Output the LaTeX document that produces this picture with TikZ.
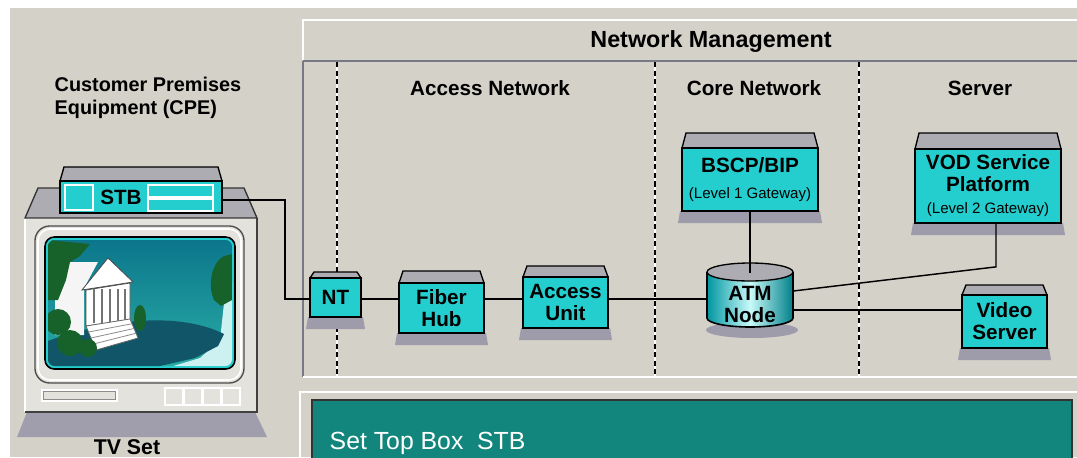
\documentclass[tikz,border=0pt]{standalone}
\usepackage{fontspec}
\setmainfont{Liberation Sans}
\usetikzlibrary{calc}

\definecolor{bg}{RGB}{212,209,201}
\definecolor{tvbody}{RGB}{228,226,220}
\definecolor{devcyan}{RGB}{36,206,206}
\definecolor{lidgrey}{RGB}{172,172,178}
\definecolor{shadowgrey}{RGB}{158,156,170}
\definecolor{panelteal}{RGB}{18,134,124}
\definecolor{standgrey}{RGB}{160,158,172}
\definecolor{framegrey}{RGB}{120,120,135}
\definecolor{leaf}{RGB}{22,98,42}
\definecolor{skytop}{RGB}{12,118,140}
\definecolor{skybot}{RGB}{40,172,165}
\definecolor{ground}{RGB}{16,86,104}
\definecolor{water}{RGB}{205,240,240}
\definecolor{cyldark}{RGB}{0,150,160}
\definecolor{cyllight}{RGB}{200,250,250}

\tikzset{
  dev/.style={draw=black, line width=1.3pt, fill=devcyan, align=center, inner sep=0pt,
    font=\bfseries\fontsize{15.5}{16.5}\selectfont},
  lid/.style={draw=black, line width=1pt, fill=lidgrey},
  wire/.style={draw=black, line width=1.1pt},
  heading/.style={font=\bfseries\fontsize{15.5}{17}\selectfont},
  divider/.style={black, line width=1.1pt, dash pattern=on 3.8pt off 2.6pt},
}
% smaller plain type for the gateway notes
\newcommand\gwfont{\mdseries\fontsize{11.3}{14}\selectfont}

% shadow, lid and body of a box-shaped device: name, cx, cy, w, h, lid height, label
\newcommand\netdevice[7]{%
  \fill[shadowgrey] ({#2-#4/2-2},{#3+#5/2}) -- ({#2+#4/2+2},{#3+#5/2})
     -- ({#2+#4/2+4},{#3+#5/2+12}) -- ({#2-#4/2-4},{#3+#5/2+12}) -- cycle;
  \filldraw[lid] ({#2-#4/2},{#3-#5/2}) -- ({#2-#4/2+4},{#3-#5/2-#6})
     -- ({#2+#4/2-4},{#3-#5/2-#6}) -- ({#2+#4/2},{#3-#5/2}) -- cycle;
  \node[dev, minimum width=#4*0.75pt, minimum height=#5*0.75pt] (#1) at (#2,#3) {#7};
}

\begin{document}
\begin{tikzpicture}[x=0.75pt,y=-0.75pt]
\useasboundingbox (0,0) rectangle (1077,457);
\fill[white] (0,0) rectangle (1077,457);
\fill[bg] (10,8) rectangle (1077,457);

% ---------- network management frame ----------
\draw[white, line width=1.5pt] (303,60) -- (303,20) -- (1077,20);
\draw[framegrey, line width=1.2pt] (303,61) -- (1077,61);
\draw[framegrey, line width=0.8pt] (303,61) -- (303,377);
\draw[white, line width=1.5pt] (303,377) -- (1077,377);
\foreach \dx in {337,655,859} {
  \draw[white, line width=1.1pt] (\dx,62) -- (\dx,376);
  \draw[divider] (\dx,62) -- (\dx,376);
}

\node[font=\bfseries\fontsize{17.5}{20}\selectfont] (nm) at (711,42) {Network Management};
\node[heading] (an) at (490,88) {Access Network};
\node[heading] (cn) at (754,88) {Core Network};
\node[heading] (sv) at (980,88) {Server};
\node[font=\bfseries\fontsize{14.9}{17.3}\selectfont, align=left, anchor=west] (cpe) at (50,98)
  {Customer Premises\\Equipment (CPE)};

% ---------- set top box panel ----------
\draw[white, line width=1.5pt] (300,458) -- (300,392) -- (1077,392);
\filldraw[fill=panelteal, draw=black!80, line width=1pt] (312,460) -- (312,400) -- (1072,400) -- (1072,460);
\node[text=white, font=\fontsize{18.6}{20}\selectfont, anchor=west] (stbpanel) at (325,443) {Set Top Box\ \ STB};

% ---------- TV set ----------
\fill[standgrey] (27,412) -- (255,412) -- (267,437) -- (17,437) -- cycle;
\fill[tvbody] (25,218) rectangle (257,412);
\draw[white, line width=1.3pt] (25,412) -- (25,218) -- (257,218);
\draw[black!75, line width=1.3pt] (25,412) -- (257,412) -- (257,218);
\filldraw[fill=lidgrey, draw=black!80, line width=1pt] (25,218) -- (38,188) -- (244,188) -- (257,218) -- cycle;
\draw[black!70, line width=1pt, rounded corners=11pt] (35,226) rectangle (244,383);
\draw[white, line width=1.2pt, rounded corners=9pt] (38,229) rectangle (241,380);
\filldraw[fill=devcyan, draw=black, line width=1.2pt, rounded corners=7pt] (45,237) rectangle (235,369);
\begin{scope}
  \clip[rounded corners=5pt] (48,240) rectangle (232,366);
  \shade[top color=skytop, bottom color=skybot] (48,240) rectangle (232,366);
  \fill[water] (226,285) -- (235,280) -- (235,370) -- (160,370) -- (200,358) -- (220,340) -- cycle;
  \fill[ground] (45,342) .. controls (110,318) and (180,312) .. (224,334)
     -- (218,346) -- (195,358) -- (160,366) -- (45,370) -- cycle;
  \fill[leaf] (224,256) .. controls (212,262) and (207,285) .. (214,300)
     -- (221,306) -- (232,300) -- (232,254) -- cycle;
  \fill[white!92!gray] (55,262) -- (98,262) -- (84,288) -- (84,335) -- (55,335) -- cycle;
  \filldraw[fill=white, draw=black!70, line width=0.6pt] (82,290) -- (108,258) -- (133,282) -- cycle;
  \filldraw[fill=white, draw=black!70, line width=0.6pt] (86,290) -- (130,283) -- (130,320) -- (86,326) -- cycle;
  \foreach \cx in {94,102,110,118,125}
    \draw[black!55, line width=0.8pt] (\cx,289) -- (\cx,323);
  \filldraw[fill=white, draw=black!60, line width=0.6pt] (86,326) -- (130,319) -- (138,338) -- (96,350) -- cycle;
  \foreach \s in {0.25,0.5,0.75}
    \draw[black!45, line width=0.6pt] ($(86,326)!\s!(96,350)$) -- ($(130,319)!\s!(138,338)$);
  % foliage
  \fill[leaf] (48,240) -- (90,244) -- (80,256) -- (70,262) -- (66,280) -- (58,300) -- (48,300) -- cycle;
  \fill[leaf] (62,258) circle [radius=9];
  \fill[leaf] (58,322) circle [radius=13];
  \fill[leaf] (70,343) circle [radius=13];
  \fill[leaf] (88,348) circle [radius=9];
  \fill[leaf] (140,318) ellipse [x radius=6, y radius=13];
\end{scope}
% controls below the screen
\draw[white, line width=1pt] (42,390) rectangle (117,401);
\draw[black!45, line width=0.6pt] (43.5,391.5) rectangle (115.5,399.5);
\foreach \bx in {165,184,203,222}
  \draw[white, line width=1pt] (\bx,388) rectangle ++(18,17);
\node[font=\bfseries\fontsize{16}{18}\selectfont] (tv) at (127,447) {TV Set};

% set top box on the TV
\filldraw[lid] (60,181) -- (64,167) -- (218,167) -- (222,181) -- cycle;
\node[dev, minimum width=162*0.75pt, minimum height=32*0.75pt] (stb) at (141,197) {};
\draw[white, line width=0.9pt] (65,185) rectangle (93,210);
\draw[white, line width=0.9pt] (148,185) rectangle (213,197);
\draw[white, line width=0.9pt] (148,199) rectangle (213,211);
\node[font=\bfseries\fontsize{15.5}{17}\selectfont] (stblabel) at (121,197) {STB};

% ---------- devices ----------
\netdevice{nt}{335.5}{297.5}{51}{39}{6}{NT}
\netdevice{fh}{441.5}{308}{85}{50}{12}{Fiber\\Hub}
\netdevice{au}{565.5}{302.5}{85}{51}{11}{Access\\Unit}
\netdevice{bscp}{750}{179.5}{136}{63}{15}{BSCP/BIP\\[3pt]{\gwfont (Level 1 Gateway)}}
\netdevice{vod}{988}{186}{146}{74}{16}{VOD Service\\Platform\\{\gwfont (Level 2 Gateway)}}
\netdevice{vs}{1004.5}{321.5}{85}{53}{10}{Video\\Server}

% ATM node drawn as a cylinder
\fill[shadowgrey] (752,330) ellipse [x radius=46, y radius=8];
\shade[left color=cyldark, right color=cyldark!85!black, middle color=cyllight]
  (707,272) -- (707,318) arc [start angle=180, end angle=0, x radius=43, y radius=9] -- (793,272) -- cycle;
\draw[black, line width=1.2pt]
  (707,272) -- (707,318) arc [start angle=180, end angle=0, x radius=43, y radius=9] -- (793,272);
\filldraw[fill=lidgrey, draw=black, line width=1pt] (750,272) ellipse [x radius=43, y radius=9];
\node[font=\bfseries\fontsize{15.5}{16.5}\selectfont, align=center, inner sep=0pt,
  minimum width=86*0.75pt, minimum height=46*0.75pt] (atm) at (750,304) {ATM\\Node};

% ---------- connections ----------
\coordinate (bus) at (0,299);
\coordinate (drop) at (285,299);
\coordinate (vslink) at ($(atm.east)+(0,6)$);
\draw[wire] ($(stb.east)+(0,3)$) -| (drop) -- (nt.west |- drop);
\draw[wire] (nt.east |- bus) -- (fh.west |- bus);
\draw[wire] (fh.east |- bus) -- (au.west |- bus);
\draw[wire] (au.east |- bus) -- (atm.west |- bus);
\draw[wire] (bscp.south) -- ($(atm.north)+(0,-8)$);
\draw[wire] (vslink) -- (vs.west |- vslink);
\draw[wire] ($(atm.east)+(0,-13)$) -- ($(vod.south)+(8,43)$) -- ($(vod.south)+(8,0)$);
\end{tikzpicture}
\end{document}
